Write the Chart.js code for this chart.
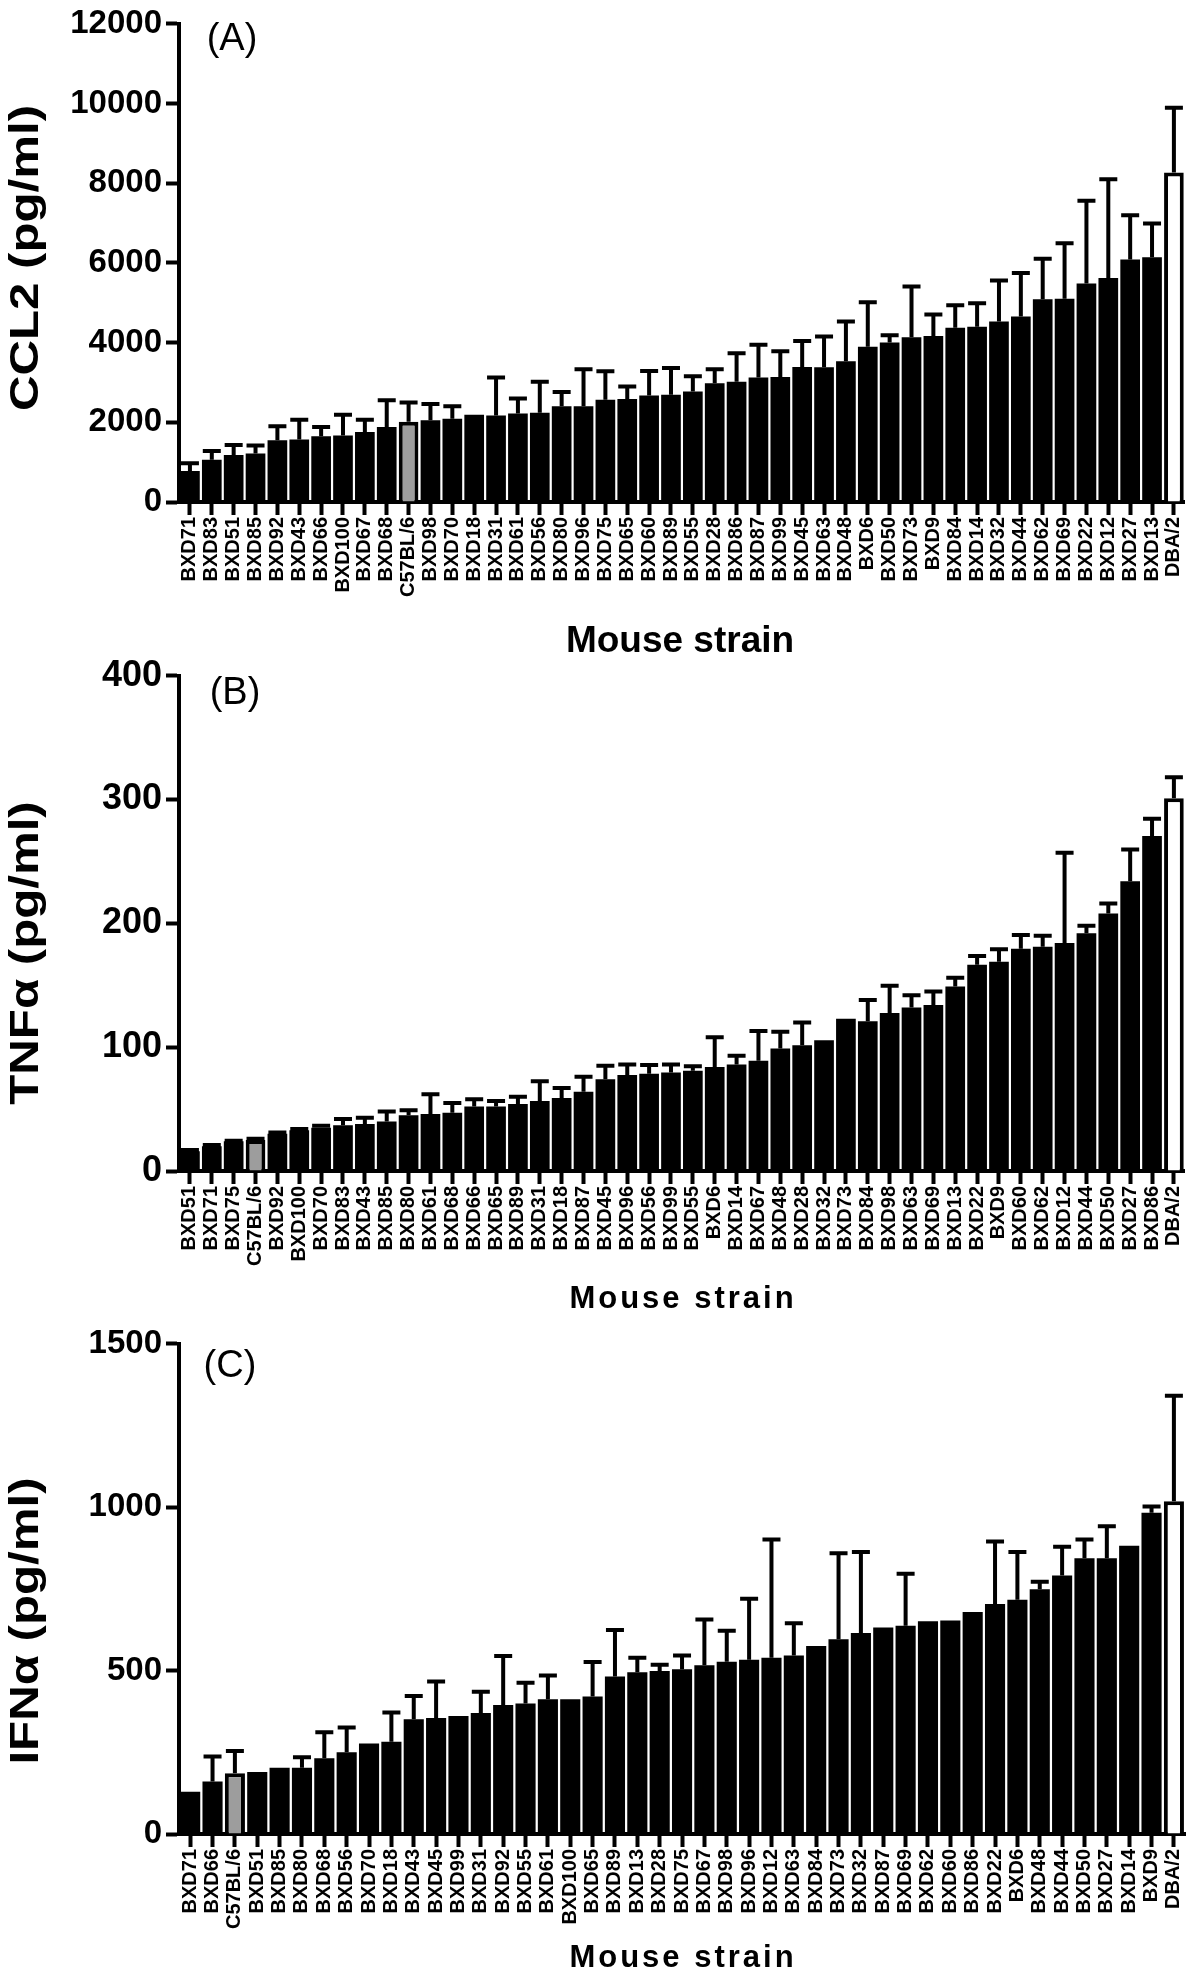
<!DOCTYPE html>
<html>
<head>
<meta charset="utf-8">
<script src="https://cdn.jsdelivr.net/npm/chart.js@4.4.1/dist/chart.umd.min.js"></script>
<style>
  html, body { margin: 0; padding: 0; background: #fff; }
  body { width: 1200px; height: 1975px; position: relative; overflow: hidden; }
  canvas { position: absolute; left: 0; }
</style>
</head>
<body>
<canvas id="ccl2" width="1200" height="665" style="top:0px"></canvas>
<canvas id="tnf" width="1200" height="668" style="top:650px"></canvas>
<canvas id="ifn" width="1200" height="655" style="top:1320px"></canvas>
<script>
// (A) CCL2
const labels_ccl2 = ['BXD71', 'BXD83', 'BXD51', 'BXD85', 'BXD92', 'BXD43', 'BXD66', 'BXD100', 'BXD67', 'BXD68',
    'C57BL/6', 'BXD98', 'BXD70', 'BXD18', 'BXD31', 'BXD61', 'BXD56', 'BXD80', 'BXD96', 'BXD75',
    'BXD65', 'BXD60', 'BXD89', 'BXD55', 'BXD28', 'BXD86', 'BXD87', 'BXD99', 'BXD45', 'BXD63',
    'BXD48', 'BXD6', 'BXD50', 'BXD73', 'BXD9', 'BXD84', 'BXD14', 'BXD32', 'BXD44', 'BXD62',
    'BXD69', 'BXD22', 'BXD12', 'BXD27', 'BXD13', 'DBA/2'];
const mean_ccl2 = [780, 1060, 1180, 1215, 1550, 1570, 1650, 1670, 1755, 1880,
    2015, 2050, 2090, 2190, 2170, 2220, 2240, 2400, 2400, 2565,
    2585, 2670, 2690, 2770, 2980, 3020, 3125, 3135, 3385, 3380,
    3530, 3895, 4000, 4135, 4165, 4375, 4395, 4530, 4655, 5090,
    5100, 5485, 5620, 6085, 6140, 8270];
const sem_ccl2 = [190, 220, 250, 205, 350, 495, 230, 520, 310, 675,
    485, 410, 310, 0, 955, 380, 780, 360, 930, 715,
    315, 620, 675, 385, 350, 710, 820, 645, 655, 770,
    1000, 1120, 185, 1275, 540, 560, 590, 1030, 1090, 1015,
    1390, 2075, 2480, 1110, 850, 1625];

// (B) TNFa
const labels_tnf = ['BXD51', 'BXD71', 'BXD75', 'C57BL/6', 'BXD92', 'BXD100', 'BXD70', 'BXD83', 'BXD43', 'BXD85',
    'BXD80', 'BXD61', 'BXD68', 'BXD66', 'BXD65', 'BXD89', 'BXD31', 'BXD18', 'BXD87', 'BXD45',
    'BXD96', 'BXD56', 'BXD99', 'BXD55', 'BXD6', 'BXD14', 'BXD67', 'BXD48', 'BXD28', 'BXD32',
    'BXD73', 'BXD84', 'BXD98', 'BXD63', 'BXD69', 'BXD13', 'BXD22', 'BXD9', 'BXD60', 'BXD62',
    'BXD12', 'BXD44', 'BXD50', 'BXD27', 'BXD86', 'DBA/2'];
const mean_tnf = [16, 20, 24, 25, 30, 33, 35, 37, 38, 40,
    45, 46, 47, 52, 52, 54, 56.5, 59, 64, 74,
    77.5, 78.5, 79.5, 81, 84, 86, 89, 99, 101.5, 105.5,
    123, 121, 127.5, 132, 134, 149, 166.5, 169, 179.5, 181,
    184, 192, 208, 234, 270.5, 301];
const sem_tnf = [1, 1, 0.5, 1, 1, 1, 1.5, 5, 5, 8,
    4, 16, 8, 6, 4.5, 6, 16, 8, 12, 11,
    8.5, 7, 6.5, 3.5, 24, 7, 24, 13.5, 18.5, 0,
    0, 17, 22, 10, 11, 7, 7, 10, 11, 9,
    73, 6, 8, 25.5, 14, 17];

// (C) IFNa
const labels_ifn = ['BXD71', 'BXD66', 'C57BL/6', 'BXD51', 'BXD85', 'BXD80', 'BXD68', 'BXD56', 'BXD70', 'BXD18',
    'BXD43', 'BXD45', 'BXD99', 'BXD31', 'BXD92', 'BXD55', 'BXD61', 'BXD100', 'BXD65', 'BXD89',
    'BXD13', 'BXD28', 'BXD75', 'BXD67', 'BXD98', 'BXD96', 'BXD12', 'BXD63', 'BXD84', 'BXD73',
    'BXD32', 'BXD87', 'BXD69', 'BXD62', 'BXD60', 'BXD86', 'BXD22', 'BXD6', 'BXD48', 'BXD44',
    'BXD50', 'BXD27', 'BXD14', 'BXD9', 'DBA/2'];
const mean_ifn = [129, 161, 186, 190, 203, 203, 232, 250, 277, 282,
    351, 355, 361, 370, 395, 399, 412, 412, 421, 482,
    495, 499, 504, 516, 527, 533, 539, 546, 575, 596,
    615, 632, 637, 651, 653, 679, 704, 717, 749, 791,
    844, 844, 882, 983, 1018];
const sem_ifn = [0, 76, 68, 0, 0, 32, 79, 76, 0, 90,
    71, 112, 0, 65, 150, 64, 73, 0, 105, 142,
    44, 19, 42, 140, 95, 187, 362, 99, 0, 263,
    248, 0, 159, 0, 0, 0, 191, 146, 23, 88,
    57, 98, 0, 19, 323];

const FONT = '"Liberation Sans", Arial, sans-serif';

// upward error bars, drawn through the y scale
const errorBars = {
    id: 'errorBars',
    afterDatasetsDraw(chart) {
        const ctx = chart.ctx;
        const ds = chart.data.datasets[0];
        const yScale = chart.scales.y;
        ctx.save();
        ctx.strokeStyle = '#000';
        ctx.lineWidth = 4;
        chart.getDatasetMeta(0).data.forEach((bar, i) => {
            if (!ds.errors[i]) return;
            const top = yScale.getPixelForValue(ds.data[i] + ds.errors[i]);
            ctx.beginPath();
            ctx.moveTo(bar.x, bar.y);
            ctx.lineTo(bar.x, top);
            ctx.moveTo(bar.x - 9, top);
            ctx.lineTo(bar.x + 9, top);
            ctx.stroke();
        });
        ctx.restore();
    }
};

// panel letter and axis titles
const panelText = {
    id: 'panelText',
    afterDraw(chart, args, opts) {
        const ctx = chart.ctx;
        (opts.items || []).forEach(t => {
            ctx.save();
            ctx.font = t.font;
            ctx.fillStyle = '#000';
            ctx.textAlign = 'center';
            ctx.textBaseline = 'middle';
            if (t.spacing) ctx.letterSpacing = t.spacing + 'px';
            ctx.translate(t.x, t.y);
            if (t.rotate) ctx.rotate(t.rotate);
            if (t.sx) ctx.scale(t.sx, 1);
            ctx.fillText(t.text, 0, 0);
            ctx.restore();
        });
    }
};

function makeChart(id, labels, means, errs, yMax, yStep, o) {
    const ctx = document.getElementById(id).getContext('2d');
    return new Chart(ctx, {
        type: 'bar',
        data: {
            labels: labels,
            datasets: [{
                data: means,
                errors: errs,
                backgroundColor: labels.map(l => l === 'C57BL/6' ? '#9d9d9d' : (l === 'DBA/2' ? '#fff' : '#000')),
                borderColor: '#000',
                borderWidth: labels.map(l => (l === 'C57BL/6' || l === 'DBA/2') ? 4 : 0),
                barPercentage: 0.9,
                categoryPercentage: 1.0,
            }]
        },
        options: {
            responsive: false,
            animation: false,
            layout: {
                autoPadding: false,
                padding: { left: 0, right: 9, top: o.top, bottom: 0 }
            },
            plugins: {
                legend: { display: false },
                tooltip: { enabled: false },
                panelText: { items: o.texts },
            },
            scales: {
                x: {
                    grid: {
                        display: true, drawOnChartArea: false, offset: false,
                        tickLength: 13, tickWidth: 4, tickColor: '#000', color: '#000'
                    },
                    border: { display: true, color: '#000', width: 4 },
                    ticks: {
                        autoSkip: false, minRotation: 90, maxRotation: 90, padding: 2,
                        color: '#000', font: { family: FONT, size: 20, weight: 'bold' }
                    },
                    afterFit: s => { s.height = o.xh; }
                },
                y: {
                    min: 0,
                    max: yMax,
                    grid: { drawOnChartArea: false, tickLength: 13, tickWidth: 4, tickColor: '#000' },
                    border: { display: true, color: '#000', width: 4 },
                    ticks: {
                        stepSize: yStep, padding: 4, color: '#000',
                        font: { family: FONT, size: o.tickSize, weight: 'bold' },
                        callback: v => String(v)
                    },
                    afterFit: s => { s.width = 179; }
                }
            }
        },
        plugins: [errorBars, panelText]
    });
}

const Chart_ccl2 = makeChart('ccl2', labels_ccl2, mean_ccl2, sem_ccl2, 12000, 2000, {
    top: 18, xh: 163, tickSize: 33,
    texts: [
        { text: '(A)', x: 232, y: 40, font: '38px ' + FONT },
        { text: 'CCL2 (pg/ml)', x: 27, y: 258, rotate: -Math.PI / 2, sx: 1.2, font: 'bold 41px ' + FONT },
        { text: 'Mouse strain', x: 680, y: 642, font: 'bold 37px ' + FONT },
    ]
});

const Chart_tnf = makeChart('tnf', labels_tnf, mean_tnf, sem_tnf, 400, 100, {
    top: 23, xh: 147, tickSize: 36,
    texts: [
        { text: '(B)', x: 235, y: 44, font: '38px ' + FONT },
        { text: 'TNF\u03B1 (pg/ml)', x: 27, y: 303, rotate: -Math.PI / 2, sx: 1.2, font: 'bold 41px ' + FONT },
        { text: 'Mouse strain', x: 683, y: 649, spacing: 3, font: 'bold 31px ' + FONT },
    ]
});

const Chart_ifn = makeChart('ifn', labels_ifn, mean_ifn, sem_ifn, 1500, 500, {
    top: 21, xh: 141, tickSize: 33,
    texts: [
        { text: '(C)', x: 230, y: 47, font: '38px ' + FONT },
        { text: 'IFN\u03B1 (pg/ml)', x: 27, y: 301, rotate: -Math.PI / 2, sx: 1.2, font: 'bold 41px ' + FONT },
        { text: 'Mouse strain', x: 683, y: 638, spacing: 3, font: 'bold 31px ' + FONT },
    ]
});
</script>
</body>
</html>
